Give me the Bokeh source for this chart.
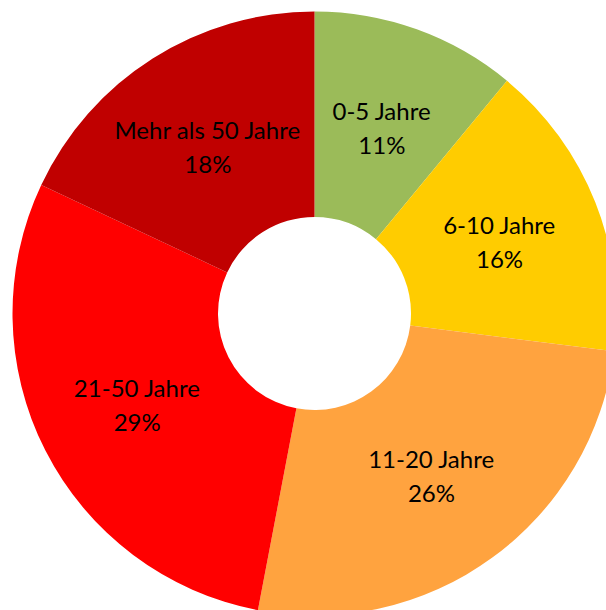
import math
from bokeh.plotting import figure
from bokeh.models import Range1d, ColumnDataSource
from bokeh.core.properties import value
from bokeh.embed import file_html
from bokeh.resources import INLINE

categories = ["0-5 Jahre", "6-10 Jahre", "11-20 Jahre", "21-50 Jahre", "Mehr als 50 Jahre"]
percents = [11, 16, 26, 29, 18]
colors = ["#9BBB59", "#FFCC00", "#FFA33F", "#FF0000", "#C00000"]

R_OUT = 302
R_IN = 96.5
R_LBL = 199

total = sum(percents)
starts, ends, lx, ly = [], [], [], []
acc = 0
for p in percents:
    a0 = math.pi / 2 - 2 * math.pi * acc / total
    a1 = math.pi / 2 - 2 * math.pi * (acc + p) / total
    starts.append(a1)
    ends.append(a0)
    mid = (a0 + a1) / 2
    lx.append(R_LBL * math.cos(mid))
    ly.append(R_LBL * math.sin(mid))
    acc += p

src = ColumnDataSource(dict(start=starts, end=ends, color=colors,
                            x=[0] * len(percents), y=[0] * len(percents),
                            lx=lx, ly=ly, cat=categories,
                            pct=[f"{p}%" for p in percents]))

W, H = 606, 610
cx, cy = 314, 313  # donut centre in figure pixels
p = figure(width=W, height=H, output_backend="svg", toolbar_location=None,
           x_range=Range1d(-cx, W - cx), y_range=Range1d(-(H - cy), cy),
           min_border=0, outline_line_color=None)
p.axis.visible = False
p.grid.visible = False

p.annular_wedge(x="x", y="y", inner_radius=R_IN, outer_radius=R_OUT,
                start_angle="start", end_angle="end", fill_color="color",
                line_color=None, source=src)

p.text(x="lx", y="ly", text="cat", source=src, y_offset=-16,
       text_align="center", text_baseline="middle",
       text_font=value("Lato"), text_font_size="24px", text_color="#000000")
p.text(x="lx", y="ly", text="pct", source=src, y_offset=18,
       text_align="center", text_baseline="middle",
       text_font=value("Lato"), text_font_size="24px", text_color="#000000")

open("out.html", "w").write(file_html(p, INLINE))
